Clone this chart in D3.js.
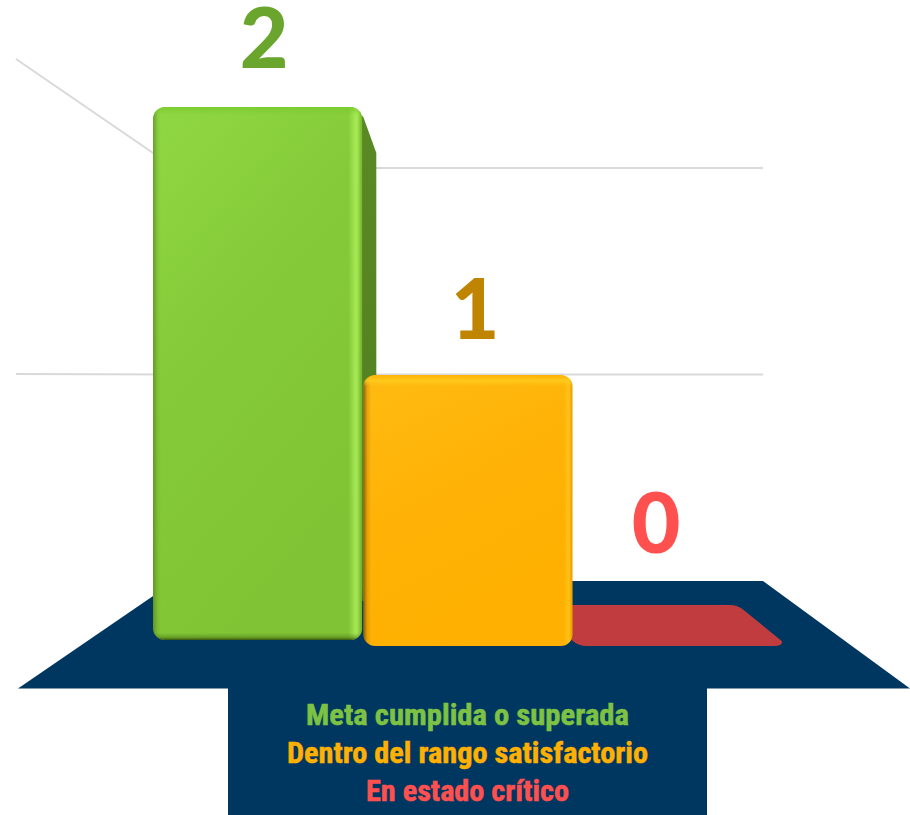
<!DOCTYPE html>
<html><head><meta charset="utf-8">
<script src="https://cdnjs.cloudflare.com/ajax/libs/d3/7.8.5/d3.min.js"></script>
<style>html,body{margin:0;padding:0;background:#fff}svg{display:block}</style>
</head><body><svg id="c" width="910" height="815"></svg>
<script>
const categories = ["Meta cumplida o superada","Dentro del rango satisfactorio","En estado crítico"];
const values = [2,1,0];
const gridValues = [1,2];
const barColors = ["#82C436","#FFB000","#C03C3E"];
const labelColors = ["#6AA52E","#BF8500","#FF5050"];
const legendColors = ["#7DC242","#FFB000","#FF5050"];

const svg = d3.select("#c");
const defs = svg.append("defs");
function grad(id,x2,y2,stops){
  const g=defs.append("linearGradient").attr("id",id).attr("x1",0).attr("y1",0).attr("x2",x2).attr("y2",y2);
  stops.forEach(s=>g.append("stop").attr("offset",s[0]).attr("stop-color",s[1]).attr("stop-opacity",s[2]===undefined?1:s[2]));
}
grad("g0",0.45,1,[[0,"#90D843"],[0.45,"#85CB39"],[1,"#80C334"]]);
grad("g1",0.4,1,[[0,"#FFBB12"],[0.5,"#FFB206"],[1,"#FFB000"]]);
grad("gSide",0,1,[[0,"#5A8A24"],[1,"#4F7D1F"]]);
grad("edgeL",1,0,[[0,"#3B5A10",0.45],[0.6,"#3B5A10",0.08],[1,"#3B5A10",0]]);
grad("edgeRg",1,0,[[0,"#B4F560",0],[0.55,"#B4F560",0.75],[0.75,"#B4F560",0.35],[1,"#3B5A10",0.2]]);
grad("edgeRo",1,0,[[0,"#FFD030",0],[0.6,"#FFC820",0.7],[1,"#C88A00",0.45]]);
grad("edgeLo",1,0,[[0,"#5A3A00",0.75],[0.5,"#8A5A00",0.22],[1,"#8A5A00",0]]);
grad("edgeTg",0,1,[[0,"#7ACB2E",0.9],[1,"#7ACB2E",0]]);
grad("edgeTo",0,1,[[0,"#FFB000",0.5],[0.5,"#FFCF20",0.75],[1,"#FFCF20",0]]);
grad("edgeB",0,1,[[0,"#3B5A10",0],[0.6,"#3B5A10",0.35],[1,"#2E4A08",0.9]]);

// Perspective scales: front of the walls, back of the floor, plane of the bars
const yFront = d3.scaleLinear().domain([0,2]).range([689,59]);
const yBack  = d3.scaleLinear().domain([0,2]).range([581,168]);
const yBar   = d3.scaleLinear().domain([0,2]).range([645,107]);
const xBar   = d3.scaleBand().domain(categories).range([153,781]).padding(0);
const xFrontL=16, xBackL=175, xBackR=763, xFrontR=910;

// gridlines
const grid = svg.append("g").attr("stroke","#D9D9D9").attr("stroke-width",2).attr("fill","none");
gridValues.forEach(v=>{
  grid.append("path").attr("d",d3.line()([[xFrontL,yFront(v)],[xBackL,yBack(v)],[xBackR,yBack(v)]]));
});

// floor
svg.append("path").attr("fill","#003760")
  .attr("d",d3.line()([[xFrontL+2,yFront(0)-0.5],[xBackL,yBack(0)],[xBackR,yBack(0)],[xFrontR,yFront(0)-0.5]])+"Z");
// legend box
svg.append("rect").attr("x",228).attr("y",yFront(0)-1).attr("width",479).attr("height",815-yFront(0)+1).attr("fill","#003760");

// red flat bar (value 0)
const rx = xBar(categories[2]), base = yBar(0);
svg.append("path").attr("fill",barColors[2])
  .attr("d",`M${rx},605 L${rx+158},605 Q${rx+166},605 ${rx+172},610 L${rx+210},641 Q${rx+212},646 ${rx+202},646 L${rx+16},646 Q${rx+6},646 ${rx},640 Z`);

// green side
const gx = xBar(categories[0]), gw = xBar.bandwidth(), gTop = yBar(values[0]);
svg.append("path").attr("fill","url(#gSide)")
  .attr("d",`M${gx+gw-10},${gTop} L${gx+gw+1},${gTop+10} L${gx+gw+14},${gTop+46} L${gx+gw+14},${yBack(0)+20} L${gx+gw},${yBack(0)+20} Z`);

function bar(i,x0,x1,y0,y1,fill,edgeL,edgeR,edgeT,edgeBot){
  const id="clip"+i, r=12;
  defs.append("clipPath").attr("id",id).append("rect").attr("x",x0).attr("y",y0).attr("width",x1-x0).attr("height",y1-y0).attr("rx",r);
  const g=svg.append("g").attr("clip-path",`url(#${id})`);
  g.append("rect").attr("x",x0).attr("y",y0).attr("width",x1-x0).attr("height",y1-y0).attr("fill",fill);
  g.append("rect").attr("x",x0).attr("y",y0).attr("width",edgeL[1]).attr("height",y1-y0).attr("fill",edgeL[0]);
  g.append("rect").attr("x",x1-edgeR[1]).attr("y",y0).attr("width",edgeR[1]).attr("height",y1-y0).attr("fill",edgeR[0]);
  g.append("rect").attr("x",x0).attr("y",y0).attr("width",x1-x0).attr("height",edgeT[1]).attr("fill",edgeT[0]);
  if(edgeBot) g.append("rect").attr("x",x0).attr("y",y1-edgeBot[1]).attr("width",x1-x0).attr("height",edgeBot[1]).attr("fill",edgeBot[0]);
}
bar(0,gx,gx+gw,gTop,yBar(0)-5,"url(#g0)",["url(#edgeL)",8],["url(#edgeRg)",14],["url(#edgeTg)",8],["url(#edgeB)",7]);
const ox = xBar(categories[1]), oTop = yBar(values[1]);
bar(1,ox+1,ox+gw+1,oTop-1,yBar(0)+1,"url(#g1)",["url(#edgeLo)",8],["url(#edgeRo)",9],["url(#edgeTo)",11],null);

// value labels
const labelY = [yBar(values[0])-39, yBar(values[1])-37, yBar(values[2])-92];
const labelX = [264,475,656];
svg.selectAll("text.v").data(values).enter().append("text").attr("class","v")
  .attr("x",(d,i)=>labelX[i]).attr("y",(d,i)=>labelY[i])
  .attr("text-anchor","middle").attr("font-family","Lato,'Open Sans',sans-serif")
  .attr("font-weight",900).attr("font-size",84).attr("fill",(d,i)=>labelColors[i]).text(d=>d);

// legend
const legendY = [725,763,801];
const legendW = [323,361,203];
svg.selectAll("text.l").data(categories).enter().append("text").attr("class","l")
  .attr("x",467.5).attr("y",(d,i)=>legendY[i]).attr("text-anchor","middle")
  .attr("font-family","'Liberation Sans Narrow','Roboto Condensed','Liberation Sans',sans-serif")
  .attr("font-weight",700).attr("font-size",30).attr("fill",(d,i)=>legendColors[i])
  .attr("stroke",(d,i)=>legendColors[i]).attr("stroke-width",0.5)
  .attr("textLength",(d,i)=>legendW[i]).attr("lengthAdjust","spacingAndGlyphs").text(d=>d);
</script></body></html>
